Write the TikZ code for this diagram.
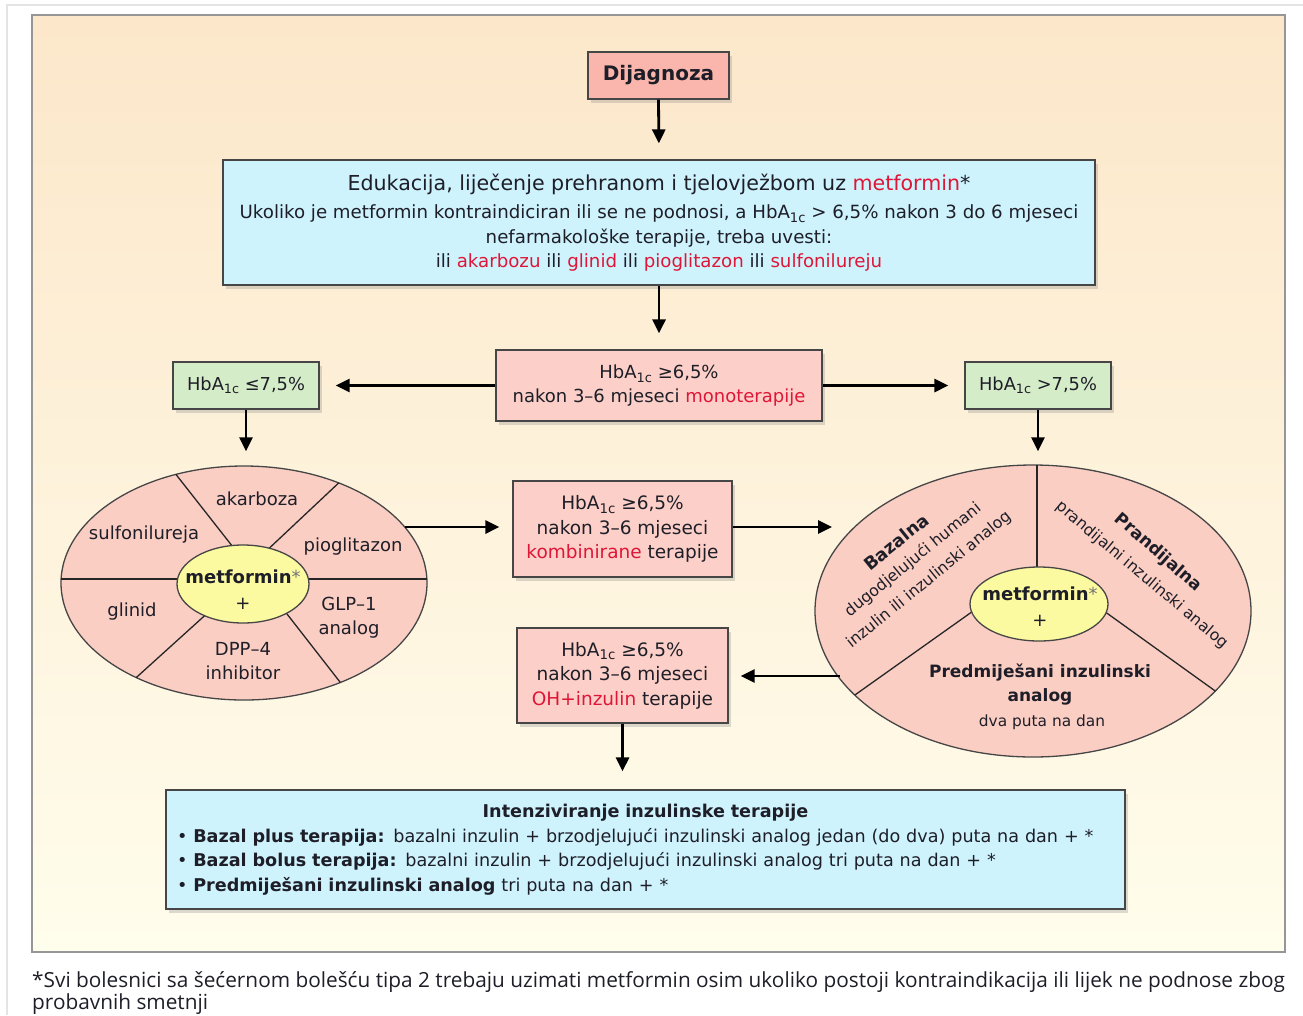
\documentclass[tikz,border=0pt]{standalone}
\usepackage{fontspec}
\usepackage{graphicx}
\setmainfont{DejaVu Sans}
\newfontfamily\fnf{Open Sans}
\usetikzlibrary{arrows.meta,shadows,calc,shapes.geometric}
\definecolor{panelTop}{RGB}{252,231,202}
\definecolor{panelBot}{RGB}{255,253,236}
\definecolor{panelLine}{RGB}{150,150,150}
\definecolor{frameLine}{RGB}{228,228,228}
\definecolor{cyanFill}{RGB}{206,243,253}
\definecolor{pinkFill}{RGB}{252,208,200}
\definecolor{diagFill}{RGB}{250,182,172}
\definecolor{greenFill}{RGB}{213,236,200}
\definecolor{yellowFill}{RGB}{252,250,160}
\definecolor{ellFill}{RGB}{251,206,196}
\definecolor{hl}{RGB}{222,22,55}
\definecolor{txt}{RGB}{30,30,40}
\definecolor{boxLine}{RGB}{70,70,70}
\newcommand{\hbsub}[1]{\raisebox{-0.35ex}{\scalebox{0.72}{#1}}}
\newcommand{\HbA}{HbA\hbsub{1c}}
\begin{document}
\begin{tikzpicture}[x=1pt,y=-1pt,
  boxst/.style={draw=boxLine, line width=1.2pt, inner sep=0pt, align=center, text=txt,
    drop shadow={shadow xshift=3pt,shadow yshift=-4pt,opacity=0.28}},
  arr/.style={-{Triangle[length=14pt,width=13pt]}, line width=2.8pt, draw=black},
  ellst/.style={ellipse, draw=boxLine, line width=1.3pt, inner sep=0pt},
  segline/.style={draw=black!85, line width=1.3pt},
  lab/.style={text=txt, align=center, inner sep=0pt, font=\fontsize{18}{24}\selectfont},
  every node/.append style={text=txt}
]
\useasboundingbox (0,0) rectangle (1303,1015);
% page frame
\draw[frameLine, line width=1.2pt] (7,1015) -- (7,5) -- (1303,5);
% panel
\shadedraw[top color=panelTop, bottom color=panelBot, draw=panelLine, line width=2.6pt] (32,15) rectangle (1285,952);

% boxes
\node[boxst, fill=diagFill, minimum width=141pt, minimum height=47pt, font=\bfseries\fontsize{20}{24}\selectfont] (diag) at (658.5,75.5) {Dijagnoza};

\node[boxst, fill=cyanFill, minimum width=872pt, minimum height=125pt, font=\fontsize{18.2}{24.5}\selectfont] (edu) at (659,222.5)
 {{\fontsize{20.6}{24}\selectfont Edukacija, liječenje prehranom i tjelovježbom uz \textcolor{hl}{metformin}*}\\[4pt]
  Ukoliko je metformin kontraindiciran ili se ne podnosi, a \HbA{} > 6,5\% nakon 3 do 6 mjeseci\\
  nefarmakološke terapije, treba uvesti:\\
  ili \textcolor{hl}{akarbozu} ili \textcolor{hl}{glinid} ili \textcolor{hl}{pioglitazon} ili \textcolor{hl}{sulfonilureju}};

\node[boxst, fill=pinkFill, minimum width=326pt, minimum height=71pt, font=\fontsize{18}{23.5}\selectfont] (mono) at (659,385.5)
 {\HbA{} ≥6,5\%\\ nakon 3–6 mjeseci \textcolor{hl}{monoterapije}};

\node[boxst, fill=greenFill, minimum width=146pt, minimum height=47pt, font=\fontsize{17.8}{23}\selectfont] (gl) at (246,385.5) {\HbA{} ≤7,5\%};
\node[boxst, fill=greenFill, minimum width=146pt, minimum height=47pt, font=\fontsize{17.8}{23}\selectfont] (gr) at (1038,385.5) {\HbA{} >7,5\%};

\node[boxst, fill=pinkFill, minimum width=219pt, minimum height=96pt, font=\fontsize{18.5}{24.5}\selectfont] (komb) at (622.5,529)
 {\HbA{} ≥6,5\%\\ nakon 3–6 mjeseci\\ \textcolor{hl}{kombinirane} terapije};

\node[boxst, fill=pinkFill, minimum width=211pt, minimum height=95pt, font=\fontsize{18.5}{24.5}\selectfont] (oh) at (622.5,675.5)
 {\HbA{} ≥6,5\%\\ nakon 3–6 mjeseci\\ \textcolor{hl}{OH+inzulin} terapije};

\node[boxst, fill=cyanFill, minimum width=959pt, minimum height=119pt, text width=937pt, align=left, font=\fontsize{17.6}{24.5}\selectfont] (bot) at (645.5,849.5)
 {\makebox[\linewidth]{\bfseries Intenziviranje inzulinske terapije}\\
  • \textbf{Bazal plus terapija:} bazalni inzulin + brzodjelujući inzulinski analog jedan (do dva) puta na dan + *\\
  • \textbf{Bazal bolus terapija:} bazalni inzulin + brzodjelujući inzulinski analog tri puta na dan + *\\
  • \textbf{Predmiješani inzulinski analog} tri puta na dan + *};

% left ellipse
\node[ellst, fill=ellFill, minimum width=366pt, minimum height=234pt] (L) at (244,583) {};
\begin{scope}
\clip (244,583) ellipse [x radius=183, y radius=117];
\draw[segline] (167,463) -- (240,556);
\draw[segline] (345,477) -- (262,555);
\draw[segline] (50,579) -- (440,579);
\draw[segline] (128,685) -- (212,609);
\draw[segline] (347,691) -- (280,605);
\end{scope}
\node[ellst, fill=yellowFill, minimum width=132pt, minimum height=78pt] (Lin) at (243,584) {};
\node[lab] (lm) at (243,590) {\textbf{metformin}\textcolor{black!55}{*}\\[2pt]+};
\node[lab] (l1) at (257,499) {akarboza};
\node[lab] (l2) at (144,535) {sulfonilureja};
\node[lab] (l3) at (353,547) {pioglitazon};
\node[lab] (l4) at (132,612) {glinid};
\node[lab] (l5) at (349,618) {GLP–1\\analog};
\node[lab] (l6) at (243,661) {DPP–4\\inhibitor};

% right ellipse
\node[ellst, fill=ellFill, minimum width=436pt, minimum height=292pt] (R) at (1033,611) {};
\begin{scope}
\clip (1033,611) ellipse [x radius=218, y radius=146];
\draw[segline] (1037,450) -- (1037,600);
\draw[segline] (845,702) -- (990,599);
\draw[segline] (1225,698) -- (1090,601);
\end{scope}
\node[ellst, fill=yellowFill, minimum width=138pt, minimum height=74pt] (Rin) at (1039,604) {};
\node[lab] (rm) at (1040,607) {\textbf{metformin}\textcolor{black!55}{*}\\[2pt]+};
\node[lab, rotate=39, font=\bfseries\fontsize{17.5}{22}\selectfont] (r1) at (896,542) {Bazalna};
\node[lab, rotate=39, font=\fontsize{15.8}{22}\selectfont] (r2) at (913,560) {dugodjelujući humani};
\node[lab, rotate=39, font=\fontsize{15.8}{22}\selectfont] (r3) at (929,580) {inzulin ili inzulinski analog};
\node[lab, rotate=-41, font=\bfseries\fontsize{17}{22}\selectfont] (r4) at (1158,553) {Prandijalna};
\node[lab, rotate=-40, font=\fontsize{15.7}{22}\selectfont] (r5) at (1142,575) {prandijalni inzulinski analog};
\node[lab, font=\bfseries\fontsize{17}{24}\selectfont] (r6) at (1040,685) {Predmiješani inzulinski\\analog};
\node[lab, font=\fontsize{15.4}{20}\selectfont] (r7) at (1042,722) {dva puta na dan};

% connector end points on the ellipses
\coordinate (Lr) at (405,527);
\coordinate (Rl) at (855,527);
\coordinate (Rs) at (840,676);

% arrows
\draw[arr, shorten >=16pt] (diag.south) -- (edu.north);
\draw[arr, shorten >=16pt] (edu.south) -- (mono.north);
\draw[arr, shorten >=16pt] (mono.west) -- (gl.east);
\draw[arr, shorten >=16pt] (mono.east) -- (gr.west);
\draw[arr, shorten >=14pt] (gl.south) -- (gl.south |- L.north);
\draw[arr, shorten >=13pt] (gr.south) -- (gr.south |- R.north);
\draw[arr, shorten >=13pt] (Lr) -- (Lr -| komb.west);
\draw[arr, shorten >=23pt] (komb.east |- Rl) -- (Rl);
\draw[arr, shorten >=12pt] (Rs) -- (Rs -| oh.east);
\draw[arr, shorten >=18pt] (oh.south) -- (oh.south |- bot.north);

% footnote
\node[anchor=west, inner sep=0pt, font=\fnf\fontsize{20.8}{22}\selectfont] (fn1) at (32,982)
 {*Svi bolesnici sa šećernom bolešću tipa 2 trebaju uzimati metformin osim ukoliko postoji kontraindikacija ili lijek ne podnose zbog};
\node[anchor=west, inner sep=0pt, font=\fnf\fontsize{20.8}{22}\selectfont] (fn2) at (32,1004) {probavnih smetnji};
\end{tikzpicture}
\end{document}
